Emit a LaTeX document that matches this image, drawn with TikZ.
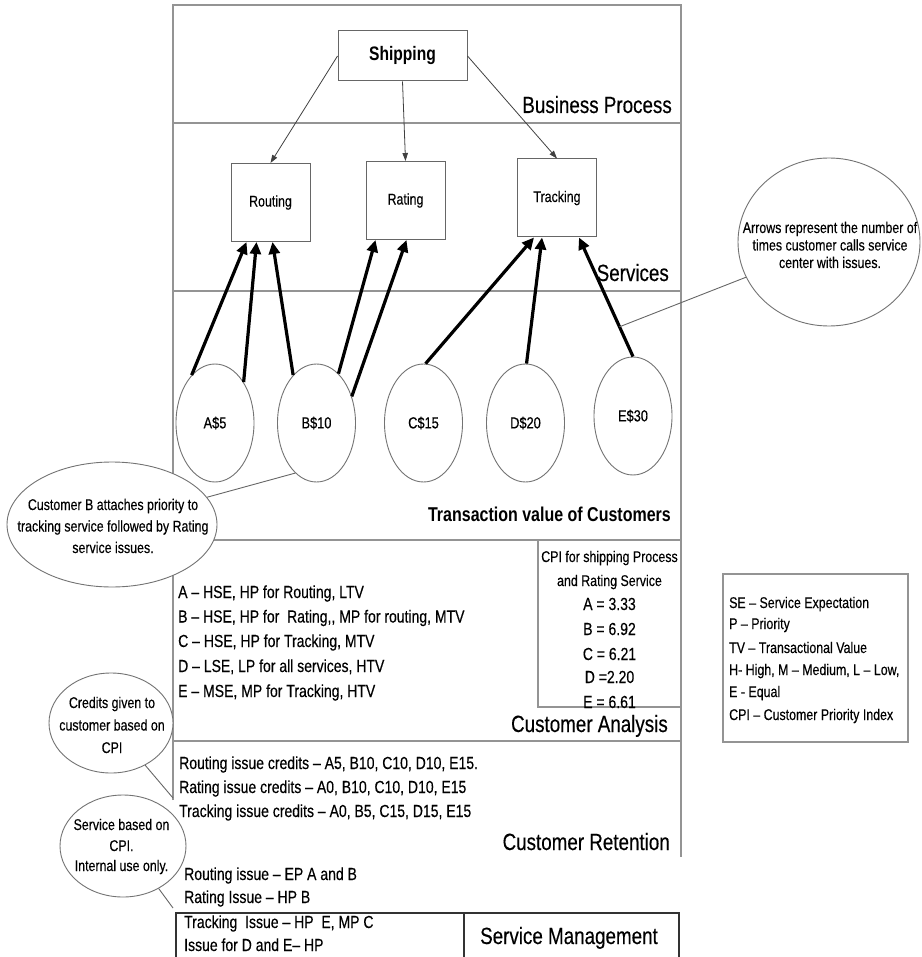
\documentclass[tikz,border=0pt]{standalone}
\usepackage{fontspec}
\setmainfont[FakeStretch=0.8,UprightFeatures={FakeBold=0.3}]{Liberation Sans}
\usetikzlibrary{arrows.meta,shapes.geometric,calc}
\begin{document}
\begin{tikzpicture}[x=1pt,y=-1pt,
  every node/.style={text=black},
  frame/.style={draw=black!42,line width=1.1pt},
  smframe/.style={draw=black!80,line width=1.2pt},
  procbox/.style={draw=black!60,line width=1pt,rectangle,minimum width=129pt,minimum height=50pt,inner sep=0pt,font=\bfseries\fontsize{19.5}{22}\selectfont},
  svcbox/.style={draw=black!60,line width=1pt,rectangle,minimum width=79pt,minimum height=78pt,inner sep=0pt,font=\fontsize{15.5}{18}\selectfont},
  cust/.style={draw=black!55,fill=white,line width=0.9pt,ellipse,minimum width=78pt,minimum height=118pt,inner sep=0pt,font=\fontsize{16}{18}\selectfont},
  callout/.style={draw=black!55,fill=white,line width=0.9pt,ellipse,inner sep=0pt},
  tarrow/.style={draw=black!75,line width=0.8pt,-{Triangle[length=8pt,width=5.5pt]}},
  bigarrow/.style={draw=black,line width=3.2pt,-{Triangle[length=12pt,width=11pt]}},
  leader/.style={draw=black!60,line width=0.9pt},
  sect/.style={anchor=base east,font=\fontsize{23.5}{26}\selectfont,inner sep=0pt},
  body/.style={anchor=base west,font=\fontsize{17.5}{20}\selectfont,inner sep=0pt},
  bodyc/.style={anchor=base,font=\fontsize{17.5}{20}\selectfont,inner sep=0pt},
  small/.style={anchor=base,font=\fontsize{15.5}{18}\selectfont,inner sep=0pt},
  smallw/.style={anchor=base west,font=\fontsize{15.5}{18}\selectfont,inner sep=0pt},
]
\useasboundingbox (0,0) rectangle (921,957);

% ---------- frame ----------
\draw[frame] (173,800) -- (173,5) -- (681,5) -- (681,857);
\draw[frame] (173,123) -- (681,123);
\draw[frame] (173,291) -- (681,291);
\draw[frame] (173,540) -- (681,540);
\draw[frame] (538,540) -- (538,707) -- (681,707);
\draw[frame] (173,741) -- (681,741);
\coordinate (credend) at (173,798);
\coordinate (smend) at (173,908);

% legend box
\draw[frame] (723,574) rectangle (908,742);

% service management box
\draw[smframe] (176,975) -- (176,913) -- (679,913) -- (679,975);
\draw[smframe] (464,913) -- (464,975);

% ---------- process and services ----------
\node[procbox] (ship) at (402.5,56) {Shipping};
\node[svcbox] (rout) at (270.5,202.5) {Routing};
\node[svcbox] (rate) at (405.5,200.5) {Rating};
\node[svcbox] (track) at (557,198) {Tracking};

\draw[tarrow] (ship.west) -- (rout.north);
\draw[tarrow] (ship.south) -- (rate.north);
\draw[tarrow] (ship.east) -- (track.north);

% ---------- customers ----------
\node[cust] (A) at (215,423) {A\$5};
\node[cust] (B) at (316.5,423) {B\$10};
\node[cust] (C) at (423.5,423) {C\$15};
\node[cust] (D) at (525.5,423) {D\$20};
\node[cust] (E) at (633,416) {E\$30};

\draw[bigarrow] (A.116) -- ([xshift=16pt]rout.south west);
\draw[bigarrow] (A.55) -- ([xshift=26pt]rout.south west);
\draw[bigarrow] (B.116) -- ([xshift=42pt]rout.south west);
\draw[bigarrow] (B.66) -- ([xshift=10pt]rate.south west);
\draw[bigarrow] (B.37) -- ([xshift=41pt]rate.south west);
\draw[bigarrow] (C.88) -- ([xshift=17pt]track.south west);
\draw[bigarrow] (D.89) -- ([xshift=25pt]track.south west);
\draw[bigarrow] (E.90) -- coordinate[pos=0.25] (eleader) ([xshift=62pt]track.south west);

% ---------- section labels ----------
\node[sect] (lbp) at (672,113) {Business Process};
\node[sect] (lsv) at (669,281) {Services};
\node[sect,font=\bfseries\fontsize{20}{22}\selectfont] (ltv) at (671,521) {Transaction value of Customers};
\node[sect] (lca) at (668,732) {Customer Analysis};
\node[sect] (lcr) at (670,850) {Customer Retention};
\node[sect,anchor=base] (lsm) at (569,944) {Service Management};

% ---------- callouts ----------
\node[callout,minimum width=182pt,minimum height=168pt] (tr) at (829,242) {};
\draw[leader] (eleader) -- (tr.203);
\node[small] (tr1) at (830,233) {Arrows represent the number of};
\node[small] (tr2) at (830,250.5) {times customer calls service};
\node[small] (tr3) at (830,268) {center with issues.};

\node[callout,minimum width=210pt,minimum height=125pt] (bc) at (112,524.5) {};
\draw[leader] (bc.16) -- (B.247);
\node[small] (bc1) at (113,510) {Customer B attaches priority to};
\node[small] (bc2) at (113,531.5) {tracking service followed by Rating};
\node[small] (bc3) at (113,553) {service issues.};

\node[callout,minimum width=124pt,minimum height=100pt] (cc) at (111,723) {};
\draw[leader] (cc.-51) -- (credend);
\node[small] (cc1) at (112,708) {Credits given to};
\node[small] (cc2) at (112,730.5) {customer based on};
\node[small] (cc3) at (112,753) {CPI};

\node[callout,minimum width=126pt,minimum height=102pt] (sc) at (123,846) {};
\draw[leader] (sc.-50) -- (smend);
\node[small] (sc1) at (121.5,830) {Service based on};
\node[small] (sc2) at (121.5,851) {CPI.};
\node[small] (sc3) at (121.5,871) {Internal use only.};

% ---------- customer analysis ----------
\node[body] (ca1) at (178,598) {A -- HSE, HP for Routing, LTV};
\node[body] (ca2) at (178,622.5) {B -- HSE, HP for\ \ Rating,{},{} MP for routing, MTV};
\node[body] (ca3) at (178,647) {C -- HSE, HP for Tracking, MTV};
\node[body] (ca4) at (178,672) {D -- LSE, LP for all services, HTV};
\node[body] (ca5) at (178,697) {E -- MSE, MP for Tracking, HTV};

\node[small] (cpi1) at (609.5,562) {CPI for shipping Process};
\node[small] (cpi2) at (609.5,586) {and Rating Service};
\node[bodyc] (cpi3) at (609.5,610) {A = 3.33};
\node[bodyc] (cpi4) at (609.5,635) {B = 6.92};
\node[bodyc] (cpi5) at (609.5,660) {C = 6.21};
\node[bodyc] (cpi6) at (609.5,683) {D =2.20};
\node[bodyc] (cpi7) at (609.5,708) {E = 6.61};

% ---------- legend ----------
\node[smallw] (lg1) at (729,608) {SE -- Service Expectation};
\node[smallw] (lg2) at (729,629) {P -- Priority};
\node[smallw] (lg3) at (729,653) {TV -- Transactional Value};
\node[smallw] (lg4) at (729,675) {H- High, M -- Medium, L -- Low,};
\node[smallw] (lg5) at (729,697) {E - Equal};
\node[smallw] (lg6) at (729,720) {CPI -- Customer Priority Index};

% ---------- customer retention ----------
\node[body] (cr1) at (179,769) {Routing issue credits -- A5, B10, C10, D10, E15.};
\node[body] (cr2) at (179,793) {Rating issue credits -- A0, B10, C10, D10, E15};
\node[body] (cr3) at (179,817) {Tracking issue credits -- A0, B5, C15, D15, E15};

% ---------- service management ----------
\node[body] (sm1) at (184,880) {Routing issue -- EP A and B};
\node[body] (sm2) at (184,903) {Rating Issue -- HP B};
\node[body] (sm3) at (184,928) {Tracking\ \ Issue -- HP\ \ E, MP C};
\node[body] (sm4) at (184,951) {Issue for D and E-- HP};
\end{tikzpicture}
\end{document}
